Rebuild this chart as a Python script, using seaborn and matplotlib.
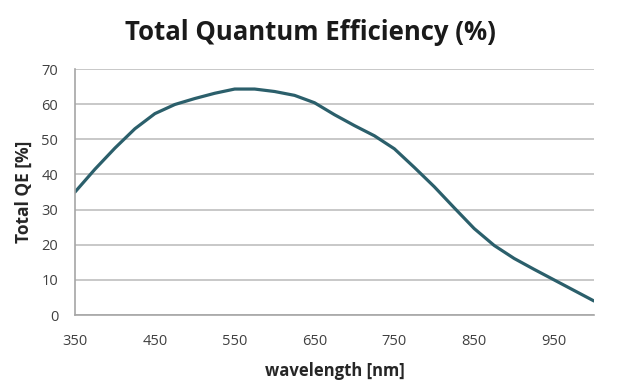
# Import Matplotlib, pandas and Seaborn
import matplotlib.pyplot as plt
import pandas as pd
import seaborn as sns

# Values
wavelength = [350, 375, 400, 425, 450, 475, 500, 525, 550, 575, 600, 625, 650,
              675, 700, 725, 750, 775, 800, 825, 850, 875, 900, 925, 950, 975, 1000]
total_qe = [35.0, 41.5, 47.5, 53.0, 57.3, 59.9, 61.6, 63.1, 64.3, 64.3, 63.6, 62.5, 60.4,
            57.0, 53.9, 51.0, 47.3, 42.0, 36.5, 30.5, 24.6, 19.8, 16.1, 13.0, 10.0, 7.0, 4.0]
x_ticks = [350, 450, 550, 650, 750, 850, 950]
y_ticks = [0, 10, 20, 30, 40, 50, 60, 70]

df = pd.DataFrame({"wavelength": wavelength, "qe": total_qe})

sns.set_style("white")
plt.rcParams['font.family'] = ['Open Sans', 'DejaVu Sans']

fig = plt.figure(figsize=(6.2, 3.83), dpi=100)
ax = fig.add_axes([0.121, 0.1775, 0.837, 0.6423])

# Grid lines behind the curve
ax.set_axisbelow(True)
ax.yaxis.grid(True, color="#BFBFBF", linewidth=1.2)
ax.xaxis.grid(False)

# Create the QE curve
sns.lineplot(x="wavelength", y="qe", data=df, ax=ax, color="#2B5F6B", linewidth=2.3)

ax.set_xlim(350, 1000)
ax.set_ylim(0, 70)
ax.set_xticks(x_ticks)
ax.set_yticks(y_ticks)

for side in ["top", "right"]:
    ax.spines[side].set_visible(False)
for side in ["left", "bottom"]:
    ax.spines[side].set_color("#A6A6A6")
    ax.spines[side].set_linewidth(1.2)

ax.tick_params(axis="both", which="both", length=5, width=1, color="#A6A6A6",
               labelsize=10.5, labelcolor="#404040", direction="out")
ax.tick_params(axis="x", pad=9)
ax.tick_params(axis="y", pad=7)

ax.set_xlabel("wavelength [nm]", fontsize=12, fontweight="bold", color="#262626", labelpad=9)
ax.set_ylabel("Total QE [%]", fontsize=12.5, fontweight="bold", color="#262626", labelpad=6)

fig.suptitle("Total Quantum Efficiency (%)", x=0.5, y=0.95, fontsize=18.5,
             fontweight="bold", color="#1A1A1A")

# Save plot
fig.savefig("out.png", dpi=100)
